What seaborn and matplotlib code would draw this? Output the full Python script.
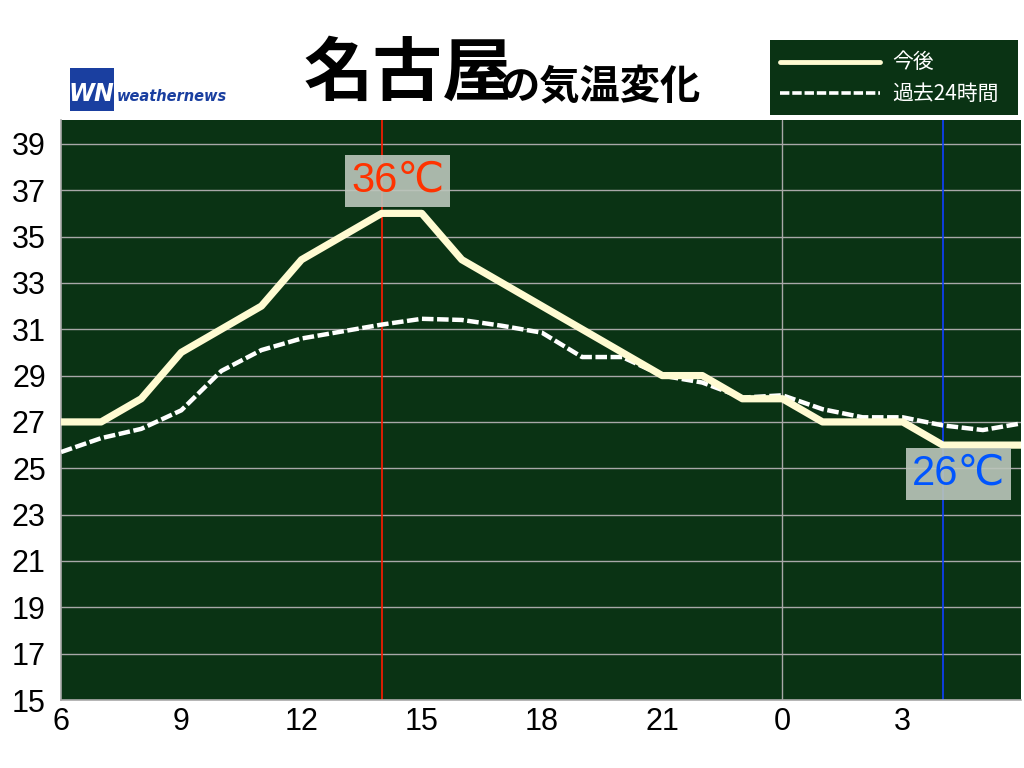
import matplotlib
matplotlib.use("Agg")
import matplotlib.pyplot as plt
import matplotlib.patches as mpatches
import pandas as pd
import seaborn as sns

# hours from 6:00 today to 6:00 tomorrow (24 = midnight)
hours = list(range(6, 31))
forecast = [27, 27, 28, 30, 31, 32, 34, 35, 36, 36, 34, 33, 32,
            31, 30, 29, 29, 28, 28, 27, 27, 27, 26, 26, 26]
past_24h = [25.7, 26.3, 26.7, 27.5, 29.2, 30.1, 30.6, 30.9, 31.2, 31.45, 31.4, 31.15, 30.85,
            29.8, 29.8, 29.0, 28.7, 28.05, 28.15, 27.55, 27.2, 27.2, 26.85, 26.65, 26.95]
xtick_vals = [6, 9, 12, 15, 18, 21, 24, 27]
xtick_labels = ["6", "9", "12", "15", "18", "21", "0", "3"]
ytick_vals = list(range(15, 40, 2))
max_hour, max_temp, max_label = 14, 36, "36℃"
min_hour, min_temp, min_label = 28, 26, "26℃"
series_names = ["今後", "過去24時間"]

df = pd.DataFrame({"hour": hours, "forecast": forecast, "past": past_24h})

sns.set_style("white")
plt.rcParams["font.family"] = ["Noto Sans CJK JP", "DejaVu Sans"]
plt.rcParams["text.color"] = "black"

BG = "#0a3314"
CREAM = "#fffbd2"
LATIN = ["Liberation Sans", "DejaVu Sans"]

fig = plt.figure(figsize=(10.24, 7.68), dpi=100)
ax = fig.add_axes([0.0596, 0.0885, 0.9374, 0.7553])
ax.set_facecolor(BG)

ax.set_xlim(6, 29.95)
ax.set_ylim(15, 40.03)

for y in ytick_vals:
    ax.axhline(y, color="#a8a8a8", lw=1.0, zorder=1)
ax.axvline(24, color="#a8a8a8", lw=1.0, zorder=1)
ax.axvline(max_hour, color="#ff1a00", lw=1.2, zorder=1)
ax.axvline(min_hour, color="#1040ff", lw=1.2, zorder=1)

sns.lineplot(data=df, x="hour", y="past", ax=ax, color="white", lw=3.2,
             linestyle=(0, (2.6, 0.8)), zorder=3)
sns.lineplot(data=df, x="hour", y="forecast", ax=ax, color=CREAM, lw=5.2,
             zorder=4)

box = dict(boxstyle="square,pad=0.14", fc="#bcc6bc", ec="none", alpha=0.9)
ax.text(max_hour + 0.4, max_temp + 1.4, max_label, color="#ff3300", fontsize=30,
        ha="center", va="center", bbox=box, zorder=5, family=LATIN)
ax.text(min_hour + 0.4, min_temp - 1.25, min_label, color="#0055ff", fontsize=30,
        ha="center", va="center", bbox=box, zorder=5, family=LATIN)

ax.set_xticks(xtick_vals)
ax.set_xticklabels(xtick_labels, family=LATIN)
ax.set_yticks(ytick_vals)
ax.set_yticklabels([str(v) for v in ytick_vals], family=LATIN)
ax.tick_params(axis="both", length=0, labelsize=22, colors="black")
ax.tick_params(axis="y", pad=11)
ax.tick_params(axis="x", pad=5)
ax.set_xlabel("")
ax.set_ylabel("")
for s in ["left", "bottom"]:
    ax.spines[s].set_color("#a8a8a8")
    ax.spines[s].set_linewidth(1.2)
for s in ["top", "right"]:
    ax.spines[s].set_visible(False)
if ax.get_legend():
    ax.get_legend().remove()

# title
fig.text(0.296, 0.903, "名古屋", fontsize=50, fontweight="bold", color="black",
         ha="left", va="center")
fig.text(0.488, 0.886, "の気温変化", fontsize=29, fontweight="bold", color="black",
         ha="left", va="center")

# logo
logo = mpatches.FancyBboxPatch((0.068, 0.855), 0.043, 0.057, boxstyle="square,pad=0",
                               fc="#1a3fa0", ec="none", transform=fig.transFigure)
fig.patches.append(logo)
fig.text(0.0895, 0.878, "WN", color="white", fontsize=17, fontweight="bold",
         style="italic", ha="center", va="center", family=["DejaVu Sans"])
fig.text(0.114, 0.874, "weathernews", color="#1a3fa0", fontsize=10.5, fontweight="bold",
         style="italic", ha="left", va="center", family=["DejaVu Sans"])

# legend box
leg_bg = mpatches.Rectangle((0.752, 0.850), 0.242, 0.098, fc=BG, ec="none",
                            transform=fig.transFigure)
fig.patches.append(leg_bg)
fig.lines.append(plt.Line2D([0.762, 0.859], [0.919, 0.919], color=CREAM, lw=3.5,
                            transform=fig.transFigure))
fig.lines.append(plt.Line2D([0.762, 0.859], [0.879, 0.879], color="white", lw=2.6,
                            linestyle=(0, (2.6, 0.8)), transform=fig.transFigure))
fig.text(0.871, 0.919, series_names[0], color="white", fontsize=15, ha="left", va="center")
fig.text(0.871, 0.877, series_names[1], color="white", fontsize=15, ha="left", va="center")

fig.savefig("out.png", dpi=100, facecolor="white")
